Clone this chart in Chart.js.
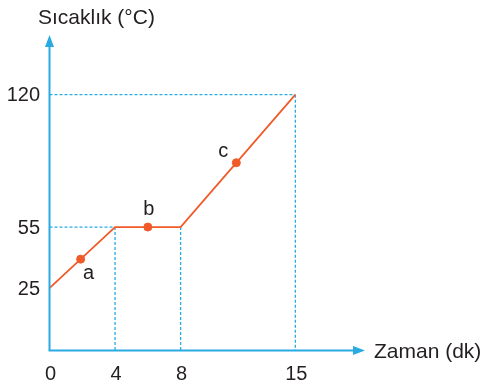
<!DOCTYPE html>
<html>
<head>
<meta charset="utf-8">
<script src="https://cdn.jsdelivr.net/npm/chart.js@4"></script>
<style>
  body { margin: 0; background: #fff; }
  canvas { display: block; }
</style>
</head>
<body>
<canvas id="chart1" width="485" height="385"></canvas>
<script>
// heating curve data
const times = [0, 4, 8, 15];          // dk
const temps = [25, 55, 55, 120];      // °C
const markNames = ['a', 'b', 'c'];
const markTimes = [1.9, 6, 11.4];
const markTemps = [39.25, 55, 86.6];
const xTicks = [0, 4, 8, 15];
const yTicks = [25, 55, 120];

const blue = '#29abe2';
const orange = '#f15a29';
const font = '"Liberation Sans", Arial, sans-serif';

const drawExtras = {
  id: 'extras',
  beforeDatasetsDraw(chart) {
    const ctx = chart.ctx;
    const x = chart.scales.x, y = chart.scales.y;
    const area = chart.chartArea;
    ctx.save();
    ctx.strokeStyle = blue;
    ctx.lineWidth = 1.3;
    ctx.setLineDash([3, 2]);
    // guide lines from corner points
    for (let i = 1; i < times.length; i++) {
      const px = x.getPixelForValue(times[i]);
      const py = y.getPixelForValue(temps[i]);
      ctx.beginPath();
      ctx.moveTo(px, py);
      ctx.lineTo(px, area.bottom);
      ctx.stroke();
      if (temps[i] !== temps[i - 1] || i === 1) {
        ctx.beginPath();
        ctx.moveTo(area.left, py);
        ctx.lineTo(px, py);
        ctx.stroke();
      }
    }
    ctx.restore();
  },
  afterDraw(chart) {
    const ctx = chart.ctx;
    const x = chart.scales.x, y = chart.scales.y;
    const area = chart.chartArea;
    ctx.save();
    // axes with arrows
    ctx.strokeStyle = blue;
    ctx.fillStyle = blue;
    ctx.lineWidth = 2;
    ctx.beginPath();
    ctx.moveTo(area.left, area.bottom);
    ctx.lineTo(area.left, area.top + 8);
    ctx.moveTo(area.left - 1, area.bottom);
    ctx.lineTo(area.right - 8, area.bottom);
    ctx.stroke();
    ctx.beginPath();
    ctx.moveTo(area.left, area.top);
    ctx.lineTo(area.left - 4.5, area.top + 12);
    ctx.lineTo(area.left + 4.5, area.top + 12);
    ctx.closePath();
    ctx.fill();
    ctx.beginPath();
    ctx.moveTo(area.right, area.bottom);
    ctx.lineTo(area.right - 12, area.bottom - 4.5);
    ctx.lineTo(area.right - 12, area.bottom + 4.5);
    ctx.closePath();
    ctx.fill();

    // tick labels
    ctx.fillStyle = '#231f20';
    ctx.font = '20px ' + font;
    ctx.textAlign = 'right';
    ctx.textBaseline = 'middle';
    yTicks.forEach(v => ctx.fillText(String(v), 40, y.getPixelForValue(v) + 1));
    ctx.textAlign = 'center';
    xTicks.forEach(v => ctx.fillText(String(v), x.getPixelForValue(v) + 1, 374));

    // axis titles
    ctx.font = '21px ' + font;
    ctx.textAlign = 'left';
    ctx.fillText('Sıcaklık (°C)', 38, 18);
    ctx.fillText('Zaman (dk)', 374, 352);

    // point names
    ctx.font = '20px ' + font;
    ctx.textAlign = 'center';
    const offs = [[8, 14], [1, -18], [-13, -11]];
    markNames.forEach((n, i) => {
      const px = x.getPixelForValue(markTimes[i]);
      const py = y.getPixelForValue(markTemps[i]);
      ctx.fillText(n, px + offs[i][0], py + offs[i][1]);
    });
    ctx.restore();
  }
};

const ctx = document.getElementById('chart1').getContext('2d');
const chart = new Chart(ctx, {
  type: 'scatter',
  data: {
    datasets: [{
      data: times.map((t, i) => ({ x: t, y: temps[i] })),
      showLine: true,
      borderColor: orange,
      borderWidth: 1.8,
      pointRadius: 0,
      clip: false
    }, {
      data: markTimes.map((t, i) => ({ x: t, y: markTemps[i] })),
      showLine: false,
      backgroundColor: orange,
      borderColor: orange,
      pointRadius: 4,
      clip: false
    }]
  },
  options: {
    responsive: false,
    animation: false,
    layout: { padding: { left: 49.5, right: 120, top: 35, bottom: 34.5 } },
    plugins: { legend: { display: false }, tooltip: { enabled: false } },
    scales: {
      x: { type: 'linear', min: 0, max: 19.25, display: false },
      y: { type: 'linear', min: -5.6, max: 149.3, display: false }
    }
  },
  plugins: [drawExtras]
});
</script>
</body>
</html>
